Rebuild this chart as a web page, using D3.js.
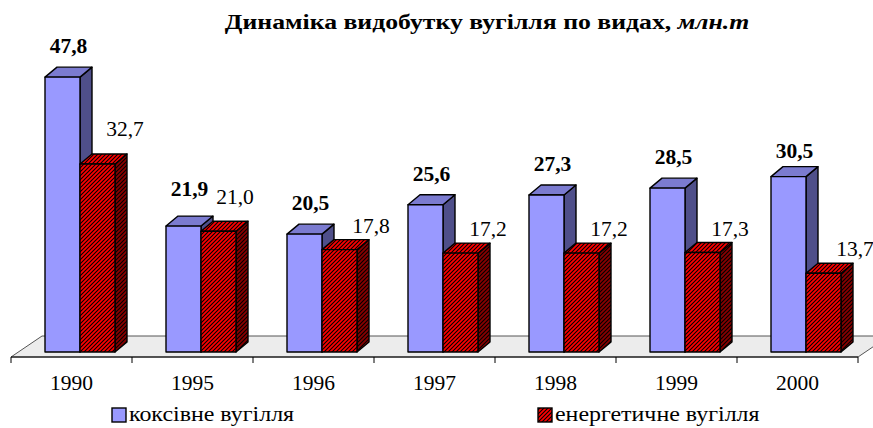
<!DOCTYPE html>
<html>
<head>
<meta charset="utf-8">
<script src="https://cdn.jsdelivr.net/npm/d3@7"></script>
<style>
  body { margin: 0; background: #fff; }
</style>
</head>
<body>
<div id="chart"></div>
<script>
var width = 873,
    height = 428;

// data
var years = ["1990", "1995", "1996", "1997", "1998", "1999", "2000"];
var coking = [47.8, 21.9, 20.5, 25.6, 27.3, 28.5, 30.5];
var energy = [32.7, 21.0, 17.8, 17.2, 17.2, 17.3, 13.7];
var seriesNames = ["коксівне вугілля", "енергетичне вугілля"];

var fmt = function(v) { return d3.format(".1f")(v).replace(".", ","); };
var serif = "'Liberation Serif', 'DejaVu Serif', serif";

var svg = d3.select("#chart").append("svg")
    .attr("width", width)
    .attr("height", height)
    .attr("font-family", serif)
    .style("font-family", serif);

var defs = svg.append("defs");

function hatch(id, bg) {
    var p = defs.append("pattern")
        .attr("id", id)
        .attr("patternUnits", "userSpaceOnUse")
        .attr("width", 4)
        .attr("height", 4);
    p.append("rect").attr("width", 4).attr("height", 4).attr("fill", bg);
    p.append("path")
        .attr("d", "M-1,1 l2,-2 M0,4 l4,-4 M3,5 l2,-2")
        .attr("stroke", "#000")
        .attr("stroke-width", 1.1);
}
hatch("hatchRed", "#ff0000");
hatch("hatchDark", "#8a0000");

var x = d3.scaleBand()
    .domain(years)
    .range([11, 858])
    .padding(0);

var y = d3.scaleLinear()
    .domain([0, 50])
    .range([352, 64.5]);

// depth of bars and floor
var dx = 12, dy = -10;
var fdx = 31, fdy = -21;
var barW = 35;
var floorY = 357;

// title (the original text is a bit wider than the font here, so stretch it)
var title = svg.append("text")
    .attr("transform", "translate(487,29) scale(1.17,1)")
    .attr("text-anchor", "middle")
    .style("font-size", "22px")
    .style("font-weight", "bold");
title.append("tspan").text("Динаміка видобутку вугілля по видах, ");
title.append("tspan").style("font-style", "italic").text("млн.т");

// floor
var x0 = x.range()[0], x1 = x.range()[1];
svg.append("path")
    .attr("d", "M" + x0 + "," + floorY + "L" + x1 + "," + floorY +
        "L" + (x1 + fdx) + "," + (floorY + fdy) + "L" + (x0 + fdx) + "," + (floorY + fdy) + "Z")
    .attr("fill", "#ececec")
    .attr("stroke", "#555")
    .attr("stroke-width", 1);

// axis on the floor's front edge
var axis = svg.append("g");
axis.append("line")
    .attr("x1", x0).attr("x2", x1)
    .attr("y1", floorY).attr("y2", floorY)
    .attr("stroke", "#000");
var tickXs = years.map(function(d) { return x(d); }).concat([x1]);
axis.selectAll(".tick")
    .data(tickXs)
    .enter()
    .append("line")
    .attr("x1", function(d) { return d; })
    .attr("x2", function(d) { return d; })
    .attr("y1", floorY)
    .attr("y2", floorY + 6)
    .attr("stroke", "#000");
axis.selectAll(".cat")
    .data(years)
    .enter()
    .append("text")
    .attr("x", function(d) { return x(d) + x.bandwidth() / 2; })
    .attr("y", 390)
    .attr("text-anchor", "middle")
    .style("font-size", "21.5px")
    .text(function(d) { return d; });

function bar3d(g, left, v, front, top, side) {
    var yt = y(v), yb = y(0);
    g.append("path")
        .attr("d", "M" + (left + barW) + "," + yb + "l" + dx + "," + dy +
            "L" + (left + barW + dx) + "," + (yt + dy) + "l" + (-dx) + "," + (-dy) + "Z")
        .attr("fill", side);
    g.append("path")
        .attr("d", "M" + left + "," + yt + "l" + dx + "," + dy + "h" + barW +
            "l" + (-dx) + "," + (-dy) + "Z")
        .attr("fill", top);
    g.append("rect")
        .attr("x", left)
        .attr("y", yt)
        .attr("width", barW)
        .attr("height", yb - yt)
        .attr("fill", front);
    g.selectAll("path, rect")
        .attr("stroke", "#000")
        .attr("stroke-width", 1.4)
        .attr("stroke-linejoin", "round");
}

var bars = svg.append("g");
years.forEach(function(yr, i) {
    var g = bars.append("g");
    var bx = x(yr) + 34;
    bar3d(g, bx, coking[i], "#9999ff", "#7b7bd0", "#4f4f8a");
    bar3d(g, bx + barW, energy[i], "url(#hatchRed)", "url(#hatchRed)", "url(#hatchDark)");
});

// value labels (small nudges where the original places them differently)
var blueNudge = { "1995": -6, "2000": 5 };
var redNudge = { "1990": [0, -11], "1995": [-11, -10], "1996": [4, 0], "2000": [4, 0] };

svg.selectAll(".lblA")
    .data(years)
    .enter()
    .append("text")
    .attr("x", function(d) { return x(d) + 34 + (barW + dx) / 2; })
    .attr("y", function(d, i) { return y(coking[i]) - 24 + (blueNudge[d] || 0); })
    .attr("text-anchor", "middle")
    .style("font-size", "21.5px")
    .style("font-weight", "bold")
    .text(function(d, i) { return fmt(coking[i]); });

svg.selectAll(".lblB")
    .data(years)
    .enter()
    .append("text")
    .attr("x", function(d) { return x(d) + 114 + (redNudge[d] ? redNudge[d][0] : 0); })
    .attr("y", function(d, i) { return y(energy[i]) - 17 + (redNudge[d] ? redNudge[d][1] : 0); })
    .attr("text-anchor", "middle")
    .style("font-size", "21.5px")
    .text(function(d, i) { return fmt(energy[i]); });

// legend
var legend = svg.append("g");
var legItems = [
    { name: seriesNames[0], fill: "#9999ff", x: 112 },
    { name: seriesNames[1], fill: "url(#hatchRed)", x: 538 }
];
legItems.forEach(function(d) {
    legend.append("rect")
        .attr("x", d.x)
        .attr("y", 408)
        .attr("width", 14)
        .attr("height", 14)
        .attr("fill", d.fill)
        .attr("stroke", "#000")
        .attr("stroke-width", 1.4);
    legend.append("text")
        .attr("transform", "translate(" + (d.x + 17) + ",421) scale(1.14,1)")
        .style("font-size", "21px")
        .text(d.name);
});
</script>
</body>
</html>
